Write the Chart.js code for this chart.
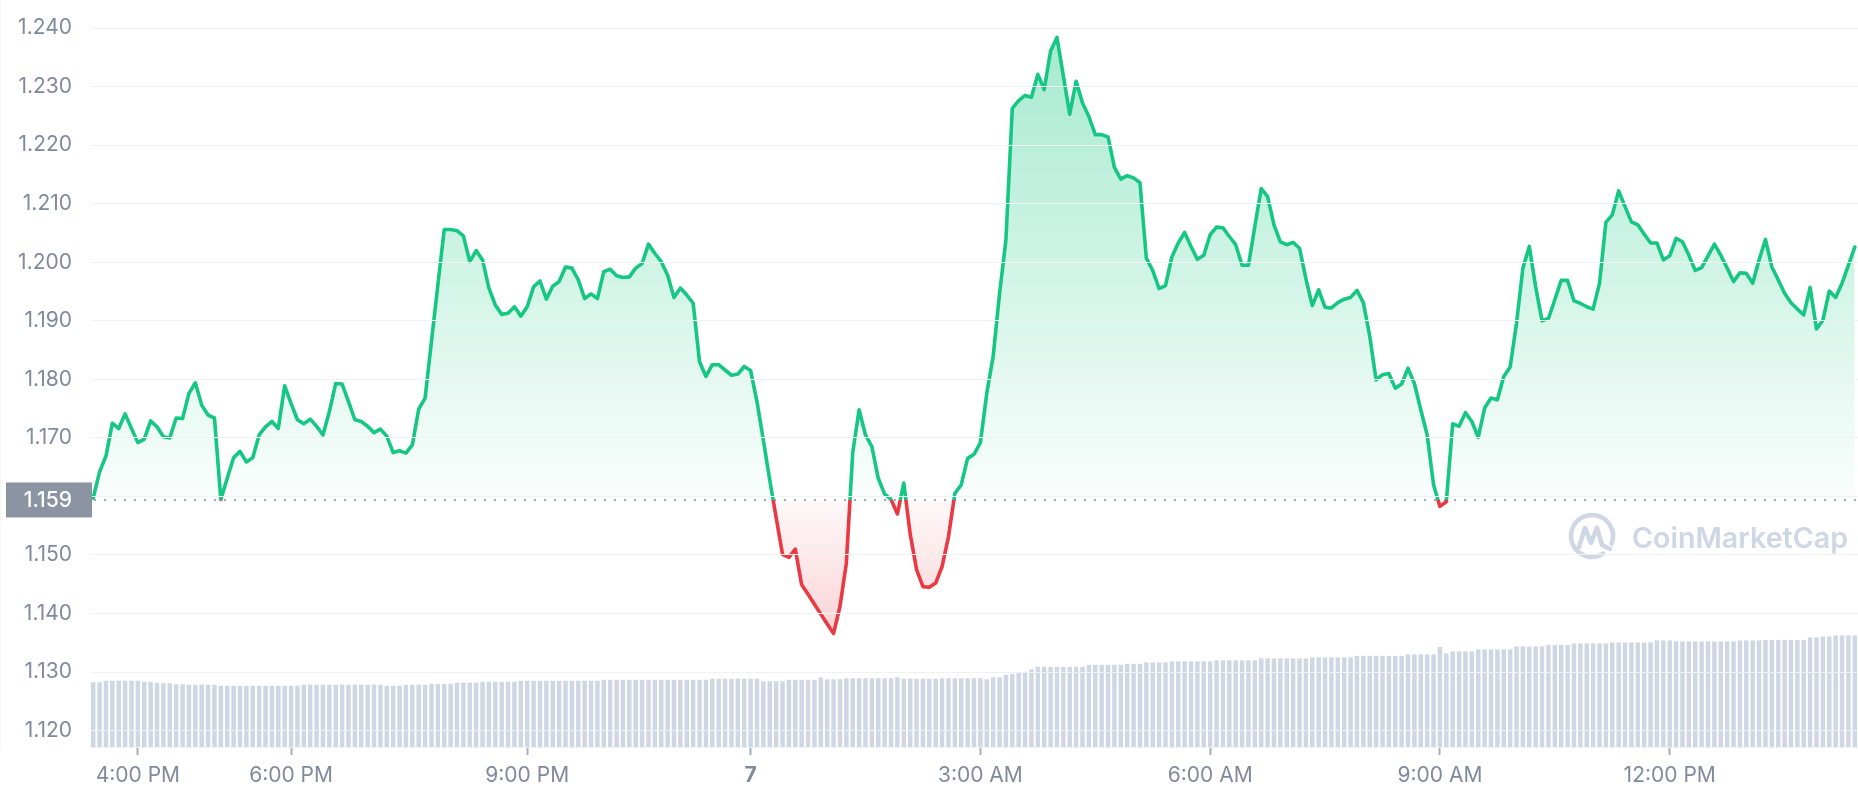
<!DOCTYPE html>
<html lang="en">
<head>
<meta charset="UTF-8">
<title>Price chart 1D</title>
<style>
  html, body { margin: 0; padding: 0; background: #ffffff; }
  #wrap { width: 1858px; height: 800px; position: relative; }
</style>
</head>
<body>
<div id="wrap"><canvas id="priceChart"></canvas></div>
<script src="https://cdn.jsdelivr.net/npm/chart.js"></script>
<script>
// price per 5-minute step
const prices = [
  1.1597, 1.1642, 1.1669, 1.1725, 1.1716, 1.1741, 1.1716, 1.1692, 1.1698, 1.1729,
  1.1719, 1.1702, 1.1700, 1.1734, 1.1733, 1.1776, 1.1794, 1.1756, 1.1739, 1.1734,
  1.1595, 1.1631, 1.1666, 1.1677, 1.1659, 1.1666, 1.1705, 1.1719, 1.1728, 1.1716,
  1.1789, 1.1759, 1.1731, 1.1724, 1.1732, 1.1720, 1.1705, 1.1745, 1.1793, 1.1792,
  1.1762, 1.1731, 1.1728, 1.1720, 1.1709, 1.1715, 1.1703, 1.1675, 1.1678, 1.1674,
  1.1688, 1.1749, 1.1768, 1.1865, 1.1961, 1.2056, 1.2056, 1.2054, 1.2045, 1.2001,
  1.2020, 1.2004, 1.1956, 1.1927, 1.1911, 1.1913, 1.1924, 1.1908, 1.1924, 1.1958,
  1.1968, 1.1937, 1.1959, 1.1967, 1.1992, 1.1990, 1.1970, 1.1938, 1.1946, 1.1938,
  1.1984, 1.1988, 1.1977, 1.1974, 1.1975, 1.1990, 1.1998, 1.2031, 1.2015, 1.2001,
  1.1978, 1.1940, 1.1956, 1.1944, 1.1930, 1.1830, 1.1805, 1.1825, 1.1825, 1.1816,
  1.1807, 1.1809, 1.1822, 1.1815, 1.1762, 1.1696, 1.1628, 1.1564, 1.1501, 1.1496,
  1.1510, 1.1449, 1.1433, 1.1416, 1.1399, 1.1382, 1.1366, 1.1412, 1.1486, 1.1675,
  1.1748, 1.1705, 1.1685, 1.1631, 1.1604, 1.1595, 1.1570, 1.1623, 1.1536, 1.1475,
  1.1446, 1.1445, 1.1452, 1.1480, 1.1531, 1.1605, 1.1620, 1.1665, 1.1672, 1.1692,
  1.1776, 1.1839, 1.1946, 1.2038, 1.2263, 1.2276, 1.2285, 1.2282, 1.2321, 1.2295,
  1.2361, 1.2384, 1.2318, 1.2253, 1.2309, 1.2272, 1.2249, 1.2218, 1.2218, 1.2214,
  1.2162, 1.2142, 1.2148, 1.2144, 1.2136, 1.2007, 1.1986, 1.1955, 1.1960, 1.2009,
  1.2033, 1.2051, 1.2027, 1.2005, 1.2012, 1.2047, 1.2060, 1.2059, 1.2044, 1.2030,
  1.1995, 1.1995, 1.2061, 1.2126, 1.2112, 1.2064, 1.2035, 1.2030, 1.2034, 1.2024,
  1.1972, 1.1926, 1.1953, 1.1923, 1.1922, 1.1931, 1.1937, 1.1940, 1.1952, 1.1931,
  1.1874, 1.1799, 1.1808, 1.1810, 1.1785, 1.1792, 1.1819, 1.1793, 1.1748, 1.1705,
  1.1620, 1.1583, 1.1591, 1.1724, 1.1720, 1.1743, 1.1728, 1.1701, 1.1751, 1.1768,
  1.1765, 1.1805, 1.1821, 1.1896, 1.1990, 1.2027, 1.1958, 1.1900, 1.1904, 1.1936,
  1.1969, 1.1969, 1.1934, 1.1930, 1.1924, 1.1920, 1.1964, 1.2068, 1.2081, 1.2122,
  1.2095, 1.2069, 1.2064, 1.2048, 1.2033, 1.2033, 1.2004, 1.2011, 1.2041, 1.2035,
  1.2012, 1.1986, 1.1991, 1.2011, 1.2031, 1.2012, 1.1990, 1.1967, 1.1982, 1.1981,
  1.1964, 1.2004, 1.2039, 1.1992, 1.1970, 1.1947, 1.1931, 1.1920, 1.1910, 1.1957,
  1.1886, 1.1901, 1.1951, 1.1940, 1.1964, 1.1995, 1.2026
];

// volume per step, $M (hidden axis)
const volumes = [
  130, 130, 133, 133, 133, 133, 133, 133, 131, 131,
  129, 128, 128, 126, 126, 125, 125, 125, 125, 125,
  123, 123, 123, 123, 123, 123, 123, 123, 123, 123,
  123, 123, 123, 125, 125, 125, 125, 125, 125, 125,
  125, 125, 125, 125, 125, 125, 123, 123, 123, 125,
  125, 125, 125, 127, 127, 127, 127, 129, 129, 129,
  129, 131, 131, 131, 131, 131, 131, 133, 133, 133,
  133, 133, 133, 133, 133, 133, 133, 133, 133, 133,
  135, 135, 135, 135, 135, 135, 135, 135, 135, 135,
  135, 135, 135, 135, 135, 135, 135, 137, 137, 137,
  137, 137, 137, 137, 137, 132, 132, 132, 132, 135,
  135, 135, 135, 135, 140, 136, 136, 136, 138, 138,
  138, 138, 138, 138, 138, 138, 140, 137, 137, 137,
  137, 137, 137, 138, 138, 138, 138, 138, 138, 138,
  136, 140, 140, 145, 147, 149, 151, 156, 161, 161,
  161, 161, 161, 161, 161, 161, 165, 165, 165, 165,
  165, 165, 167, 167, 167, 170, 170, 170, 170, 172,
  172, 172, 172, 172, 172, 172, 174, 174, 174, 174,
  174, 174, 174, 178, 178, 178, 178, 178, 178, 178,
  178, 180, 180, 180, 180, 180, 180, 180, 183, 183,
  183, 183, 183, 183, 183, 183, 186, 186, 186, 186,
  186, 201, 188, 192, 192, 192, 192, 196, 196, 196,
  196, 196, 196, 202, 202, 202, 202, 202, 205, 205,
  205, 205, 208, 208, 208, 208, 208, 208, 210, 210,
  210, 210, 210, 210, 210, 214, 214, 214, 212, 212,
  212, 212, 212, 212, 212, 212, 212, 212, 214, 214,
  214, 214, 215, 215, 215, 215, 215, 215, 215, 220,
  220, 222, 222, 224, 224, 224, 224
];

const yTicks = [1.120, 1.130, 1.140, 1.150, 1.160, 1.170, 1.180, 1.190, 1.200, 1.210, 1.220, 1.230, 1.240];
const tickIdx = [7, 31, 68, 103, 139, 175, 211, 247];
const tickLabels = ['4:00 PM', '6:00 PM', '9:00 PM', '7', '3:00 AM', '6:00 AM', '9:00 AM', '12:00 PM'];
const baseline = 1.1594;   // opening price
const yMin = 1.1172, yMax = 1.2448;
const volMax = 1500;

const green = '#16c784';
const red = '#ea3943';
const textGrey = '#808a9d';
const gridGrey = '#eff2f5';

Chart.defaults.font.family = 'Inter, "Noto Sans", sans-serif';
Chart.defaults.color = textGrey;

function lineColor(ctx) {
    const chart = ctx.chart;
    const area = chart.chartArea;
    if (!area || !chart.scales.y) return green;
    const yb = chart.scales.y.getPixelForValue(baseline);
    let f = (yb - area.top) / (area.bottom - area.top);
    f = Math.min(Math.max(f, 0), 1);
    const g = chart.ctx.createLinearGradient(0, area.top, 0, area.bottom);
    g.addColorStop(0, green);
    g.addColorStop(f, green);
    g.addColorStop(f, red);
    g.addColorStop(1, red);
    return g;
}

function areaFill(ctx) {
    const chart = ctx.chart;
    const area = chart.chartArea;
    const ys = chart.scales.y;
    if (!area || !ys) {
        return { target: { value: baseline }, above: 'rgba(22,199,132,0.12)', below: 'rgba(234,57,67,0.1)' };
    }
    const yb = ys.getPixelForValue(baseline);
    const yTop = ys.getPixelForValue(Math.max(...prices));
    const yBot = ys.getPixelForValue(Math.min(...prices));
    const up = chart.ctx.createLinearGradient(0, yTop, 0, yb);
    up.addColorStop(0, 'rgba(22,199,132,0.38)');
    up.addColorStop(1, 'rgba(22,199,132,0.02)');
    const dn = chart.ctx.createLinearGradient(0, yb, 0, yBot);
    dn.addColorStop(0, 'rgba(234,57,67,0.03)');
    dn.addColorStop(1, 'rgba(234,57,67,0.22)');
    return { target: { value: baseline }, above: up, below: dn };
}

// dotted line at the opening price + watermark
const underlay = {
    id: 'underlay',
    beforeDatasetsDraw(chart) {
        const c = chart.ctx;
        const area = chart.chartArea;
        const yb = chart.scales.y.getPixelForValue(baseline);
        c.save();
        c.strokeStyle = '#a1a7b5';
        c.lineWidth = 2;
        c.setLineDash([2, 8]);
        c.beginPath();
        c.moveTo(area.left + 4, yb);
        c.lineTo(area.right, yb);
        c.stroke();
        c.restore();

        // CoinMarketCap watermark
        const cx = area.right - 266, cy = yb + 36;
        c.save();
        c.strokeStyle = '#cfd6e4';
        c.fillStyle = '#cfd6e4';
        c.lineWidth = 4.5;
        c.lineCap = 'round';
        c.lineJoin = 'round';
        c.beginPath();
        c.arc(cx, cy, 21, 0.32 * Math.PI, 2.12 * Math.PI);
        c.stroke();
        c.beginPath();
        c.moveTo(cx - 13, cy + 11);
        c.lineTo(cx - 7, cy - 8);
        c.lineTo(cx - 1, cy + 7);
        c.lineTo(cx + 5, cy - 8);
        c.lineTo(cx + 10, cy + 9);
        c.lineTo(cx + 18, cy + 13);
        c.stroke();
        // fit the word into the space the reference gives it
        let size = 30;
        c.font = '600 ' + size + 'px Inter, sans-serif';
        const w = c.measureText('CoinMarketCap').width;
        size = size * 216 / w;
        c.font = '600 ' + size.toFixed(1) + 'px Inter, sans-serif';
        c.textAlign = 'left';
        c.textBaseline = 'alphabetic';
        c.fillText('CoinMarketCap', cx + 40, cy + 12);
        c.restore();
    }
};

// grey box with the opening price on the y axis
const priceTag = {
    id: 'priceTag',
    afterDraw(chart) {
        const c = chart.ctx;
        const area = chart.chartArea;
        const yb = chart.scales.y.getPixelForValue(baseline);
        c.save();
        c.fillStyle = '#8c93a3';
        c.fillRect(6, yb - 17.5, area.left + 2 - 6, 35);
        c.fillStyle = '#ffffff';
        c.font = '500 21px Inter, sans-serif';
        c.textAlign = 'right';
        c.textBaseline = 'middle';
        c.fillText(baseline.toFixed(3), area.left - 18, yb + 1);
        c.restore();
    }
};

const ctx = document.getElementById('priceChart').getContext('2d');
new Chart(ctx, {
    type: 'line',
    data: {
        labels: prices.map((p, i) => i),
        datasets: [
            {
                type: 'line',
                label: 'Price',
                data: prices,
                yAxisID: 'y',
                borderColor: lineColor,
                borderWidth: 3.6,
                borderJoinStyle: 'round',
                borderCapStyle: 'round',
                pointRadius: 0,
                tension: 0,
                fill: areaFill,
                order: 0
            },
            {
                type: 'bar',
                label: 'Volume',
                data: volumes,
                yAxisID: 'yv',
                backgroundColor: '#cfd6e4',
                barPercentage: 0.7,
                categoryPercentage: 1.0,
                order: 1
            }
        ]
    },
    options: {
        responsive: true,
        maintainAspectRatio: false,
        animation: false,
        layout: { padding: 0 },
        plugins: {
            legend: { display: false },
            tooltip: { enabled: false }
        },
        scales: {
            x: {
                type: 'category',
                offset: true,
                grid: {
                    offset: false,
                    drawOnChartArea: false,
                    drawTicks: true,
                    tickLength: 8,
                    tickWidth: 2,
                    tickColor: '#a5acbb'
                },
                border: { display: true, color: gridGrey },
                ticks: {
                    autoSkip: false,
                    maxRotation: 0,
                    padding: 8,
                    color: textGrey,
                    font: (c) => ({ size: 21, weight: tickLabels[c.index] === '7' ? '700' : '400' }),
                    callback: (v, i) => tickLabels[i]
                },
                afterBuildTicks: (scale) => {
                    scale.ticks = tickIdx.map(v => ({ value: v }));
                },
                afterFit: (scale) => {
                    scale.height = 53;
                    scale.paddingLeft = 0;
                    scale.paddingRight = 0;
                }
            },
            y: {
                position: 'left',
                min: yMin,
                max: yMax,
                grid: { color: gridGrey, drawTicks: false, z: 1 },
                border: { display: true, color: gridGrey },
                ticks: {
                    padding: 18,
                    color: textGrey,
                    font: { size: 21 },
                    callback: (v) => v.toFixed(3)
                },
                afterBuildTicks: (scale) => {
                    scale.ticks = yTicks.map(v => ({ value: v }));
                },
                afterFit: (scale) => {
                    scale.width = 90;
                    scale.paddingTop = 0;
                    scale.paddingBottom = 0;
                }
            },
            yv: {
                display: false,
                min: 0,
                max: volMax
            }
        }
    },
    plugins: [underlay, priceTag]
});
</script>
</body>
</html>
